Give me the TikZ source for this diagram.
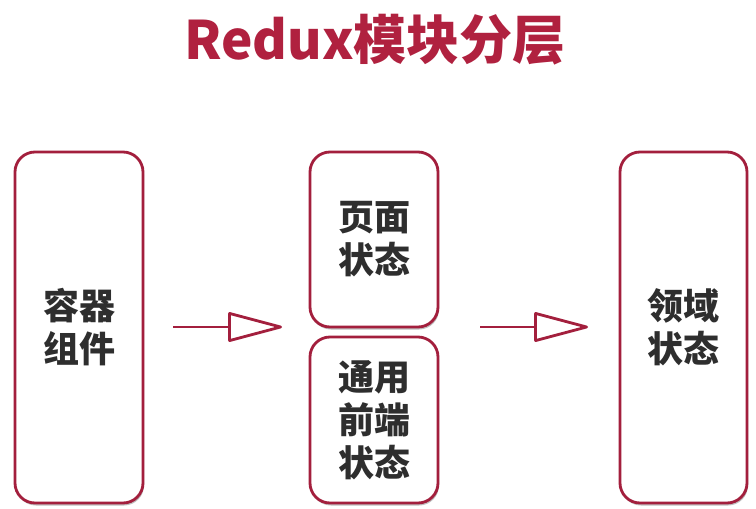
\documentclass[tikz,border=0pt]{standalone}
\usepackage{fontspec}
\setmainfont{Noto Sans CJK SC}
\usetikzlibrary{arrows.meta,shadows}
\definecolor{crim}{HTML}{B0213F}
\definecolor{edge}{HTML}{A31F3D}
\definecolor{txt}{HTML}{2E2E2E}
\tikzset{
  layerbox/.style={draw=edge, line width=2.8pt, rounded corners=20pt, fill=white,
    drop shadow={shadow xshift=1pt, shadow yshift=-2.5pt, opacity=0.25, fill=black},
    font=\fontsize{36}{43}\selectfont\bfseries, text=txt, align=center, inner sep=0pt},
  flow/.style={draw=edge, line width=2.8pt,
    -{Triangle[open, length=58pt, width=30pt, round=false]}}
}
\begin{document}
\begin{tikzpicture}[x=1pt,y=-1pt]
\fill[white] (0,0) rectangle (756,509);
\useasboundingbox (0,0) rectangle (756,509);
\node[text=crim, font=\fontsize{53}{60}\selectfont\bfseries] (title) at (375,40) {Redux模块分层};
\node[layerbox, minimum width=128pt, minimum height=351pt] (container) at (79,327.5) {容器\\组件};
\node[layerbox, minimum width=128pt, minimum height=175pt] (page) at (374,239.5) {页面\\状态};
\node[layerbox, minimum width=128pt, minimum height=166pt] (common) at (374,420) {通用\\前端\\状态};
\node[layerbox, minimum width=127pt, minimum height=351pt] (domain) at (683.5,327.5) {领域\\状态};
\coordinate (a1s) at (173,327);
\coordinate (a1e) at (282,327);
\coordinate (a2s) at (480,327);
\coordinate (a2e) at (588,327);
\draw[flow] (a1s) -- (a1e);
\draw[flow] (a2s) -- (a2e);
\end{tikzpicture}
\end{document}
